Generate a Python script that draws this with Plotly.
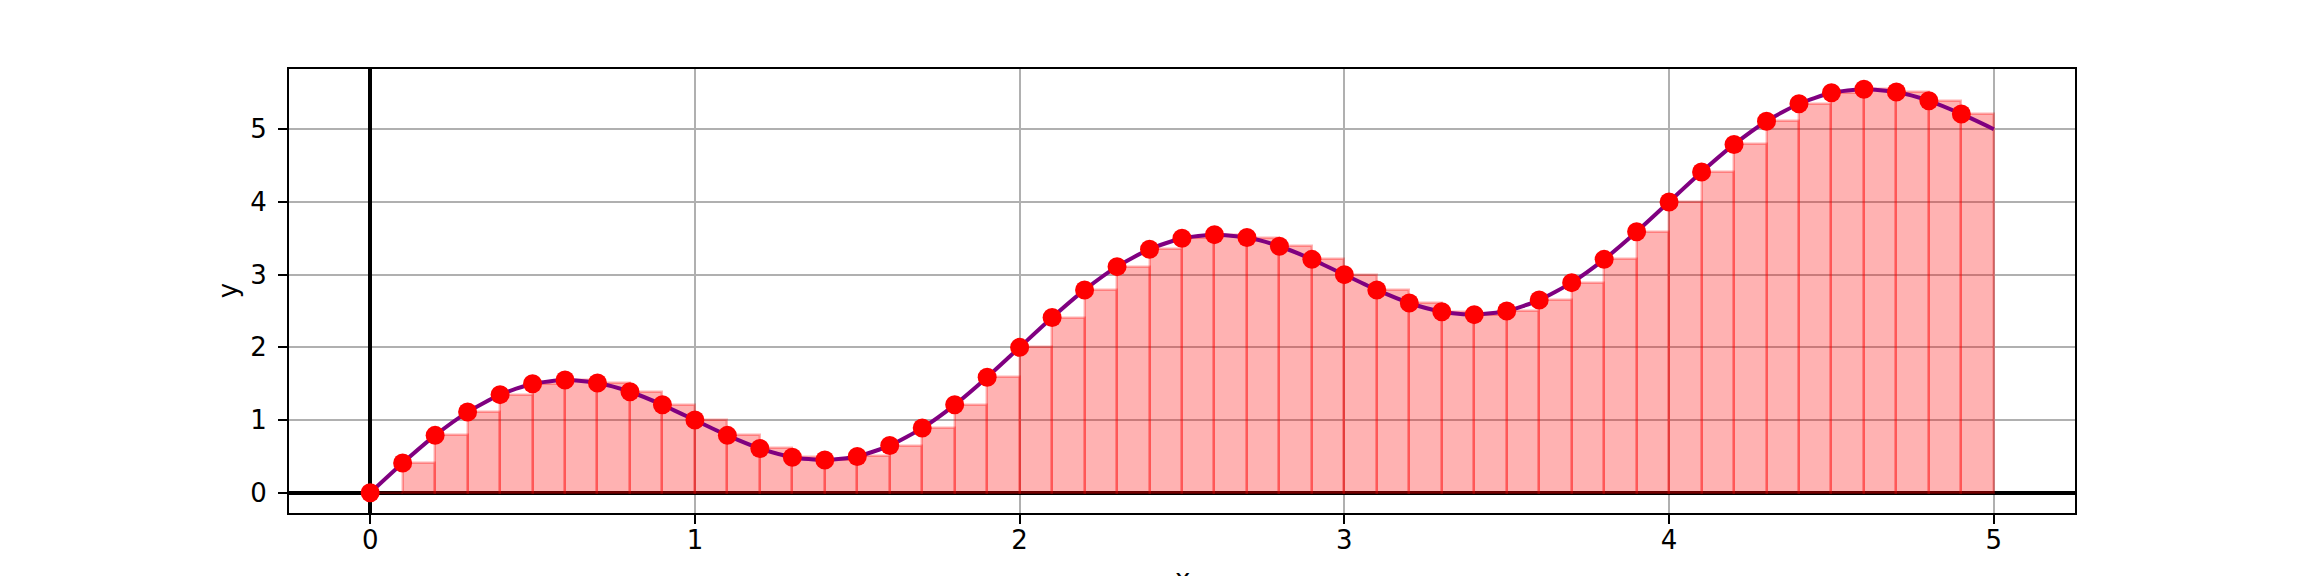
import plotly.graph_objects as go

# Sample points (x) and curve values (y)
x_pts = [0.0, 0.1, 0.2, 0.3, 0.4, 0.5, 0.6, 0.7, 0.8, 0.9,
         1.0, 1.1, 1.2, 1.3, 1.4, 1.5, 1.6, 1.7, 1.8, 1.9,
         2.0, 2.1, 2.2, 2.3, 2.4, 2.5, 2.6, 2.7, 2.8, 2.9,
         3.0, 3.1, 3.2, 3.3, 3.4, 3.5, 3.6, 3.7, 3.8, 3.9,
         4.0, 4.1, 4.2, 4.3, 4.4, 4.5, 4.6, 4.7, 4.8, 4.9, 5.0]
y_pts = [0.00, 0.41, 0.79, 1.11, 1.35, 1.50, 1.55, 1.51, 1.39, 1.21,
         1.00, 0.79, 0.61, 0.49, 0.45, 0.50, 0.65, 0.89, 1.21, 1.59,
         2.00, 2.41, 2.79, 3.11, 3.35, 3.50, 3.55, 3.51, 3.39, 3.21,
         3.00, 2.79, 2.61, 2.49, 2.45, 2.50, 2.65, 2.89, 3.21, 3.59,
         4.00, 4.41, 4.79, 5.11, 5.35, 5.50, 5.55, 5.51, 5.39, 5.21, 5.00]

# Left Riemann sum rectangles: left edges and heights
bar_left = x_pts[:-1]
bar_height = y_pts[:-1]
bar_width = 0.1

tick_vals = [0, 1, 2, 3, 4, 5]
tick_text = ["0", "1", "2", "3", "4", "5"]

fig = go.Figure()

fig.add_trace(go.Bar(
    x=bar_left, y=bar_height, width=bar_width, offset=0,
    marker=dict(color="rgba(255,0,0,0.3)",
                line=dict(color="rgba(255,0,0,0.3)", width=2.5)),
    showlegend=False,
))

fig.add_trace(go.Scatter(
    x=x_pts, y=y_pts, mode="lines",
    line=dict(color="purple", width=4, shape="spline", smoothing=0.6),
    showlegend=False,
))

fig.add_trace(go.Scatter(
    x=bar_left, y=bar_height, mode="markers",
    marker=dict(color="red", size=19),
    showlegend=False,
))

axis_common = dict(
    showgrid=True, gridcolor="#b0b0b0", gridwidth=2,
    zeroline=True, zerolinecolor="black", zerolinewidth=4,
    showline=True, linecolor="black", linewidth=2, mirror=True,
    ticks="outside", ticklen=9, tickwidth=2, tickcolor="black",
    tickfont=dict(family="DejaVu Sans", size=26, color="black"),
    tickvals=tick_vals, ticktext=tick_text,
)

fig.update_layout(
    width=2304, height=576,
    margin=dict(l=281, r=237, t=61, b=71, autoexpand=False),
    paper_bgcolor="white", plot_bgcolor="white",
    bargap=0,
    xaxis=dict(range=[-0.25, 5.25], ticklabelstandoff=-6, **axis_common),
    yaxis=dict(range=[-0.2775, 5.8275], ticklabelstandoff=6, **axis_common),
    annotations=[
        dict(text="x", xref="paper", yref="paper", x=0.5, y=-0.148,
             showarrow=False, yanchor="middle",
             font=dict(family="DejaVu Sans", size=26, color="black")),
        dict(text="y", xref="paper", yref="paper", x=-0.034, y=0.5,
             showarrow=False, textangle=-90, xanchor="center",
             font=dict(family="DejaVu Sans", size=26, color="black")),
    ],
)

fig.write_html("out.html")
